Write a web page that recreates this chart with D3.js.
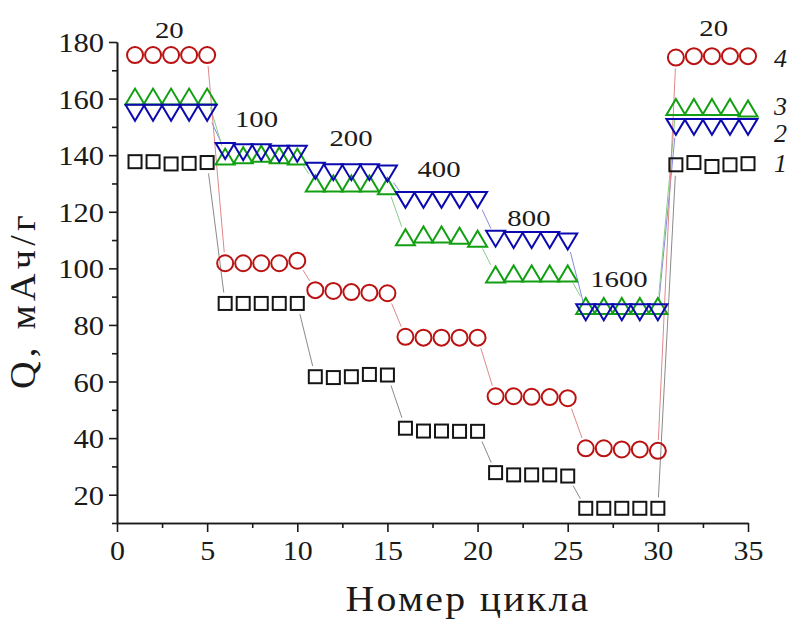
<!DOCTYPE html>
<html><head><meta charset="utf-8">
<script src="https://cdn.jsdelivr.net/npm/d3@7"></script>
<style>body{margin:0;background:#fff}svg{display:block}
text{font-family:"Liberation Serif","Times New Roman",Times,serif;}
</style>
</head><body><svg id="c" width="790" height="621"></svg>
<script>
// ---- data ----
const cycles = [1,2,3,4,5,6,7,8,9,10,11,12,13,14,15,16,17,18,19,20,21,22,23,24,25,26,27,28,29,30,31,32,33,34,35];
const series1 = [137.7,137.7,136.9,137.1,137.4, 87.6,87.6,87.6,87.6,87.6, 61.7,61.4,61.7,62.5,62.3, 43.5,42.5,42.5,42.4,42.4, 27.8,27,27,27,26.6, 15.2,15.2,15.2,15.2,15.2, 136.6,137.4,136,136.6,137];
const series2 = [155,155,155,155,155, 141.5,141,141,140.5,140.5, 134.5,134,134,134,133.5, 124.2,124.2,124.2,124.2,124.2, 110.5,110,110,110,109.5, 84.5,84.5,84.5,84.5,84.5, 150,150,150,150,150];
const series3 = [160.7,160.7,160.7,160.7,160.7, 139.5,140,140.5,140,139.5, 130,130,130,130,129, 111,112,112,111.5,110.5, 97.8,98.2,98.2,98.2,98.2, 86.7,86.7,86.7,86.7,86.7, 157,157,157,157,156.5];
const series4 = [175.4,175.4,175.4,175.4,175.4, 101.8,101.8,101.8,101.8,102.7, 92.3,92,91.6,91.4,91.2, 75.8,75.5,75.5,75.5,75.5, 54.8,54.8,54.6,54.5,54.1, 36.4,36.4,36,36,35.5, 174.5,175,175,175,175];
const seriesNames = ["1","2","3","4"];
const rateLabels = ["20","100","200","400","800","1600","20"];
const rateLabelCycle = [2.9,7.74,12.98,17.86,22.85,27.84,33.1];
const rateLabelQ = [181.4,150,143.1,132.2,115,93.5,182];
const seriesLabelQ = [134.1,144.7,154.2,171.2];
const yMajorTicks = [20,40,60,80,100,120,140,160,180];
const yMinorTicks = [10,30,50,70,90,110,130,150,170];
const xMajorTicks = [0,5,10,15,20,25,30,35];
const xMinorTicks = [2.5,7.5,12.5,17.5,22.5,27.5,32.5];
const xTitle = "Номер цикла";
const yTitle = "Q, мАч/г";

// ---- chart ----
const svg = d3.select("#c");
const x = d3.scaleLinear().domain([0,35]).range([117,748]);
const y = d3.scaleLinear().domain([10,180]).range([523,42]);
const ink = "#1a1a1a";

function stretch(node, px, py, target, rot){
  const w = node.getComputedTextLength();
  const s = w>0 ? target/w : 1;
  d3.select(node).attr("x",0).attr("y",0)
    .attr("transform",`translate(${px},${py})${rot?` rotate(${rot})`:""} scale(${s},1)`);
}

function styleAxis(g){
  g.attr("font-family",null);
  g.selectAll("path.domain").attr("stroke",ink).attr("stroke-width",1.6);
  g.selectAll(".tick line").attr("stroke",ink).attr("stroke-width",1.6);
}
svg.append("g").attr("transform","translate(117,0)")
  .call(d3.axisLeft(y).tickValues(yMinorTicks).tickSize(5).tickSizeOuter(0).tickFormat(""))
  .call(styleAxis);
svg.append("g").attr("transform","translate(0,523)")
  .call(d3.axisBottom(x).tickValues(xMinorTicks).tickSize(5).tickSizeOuter(0).tickFormat(""))
  .call(styleAxis);
const gy = svg.append("g").attr("transform","translate(117,0)")
  .call(d3.axisLeft(y).tickValues(yMajorTicks).tickSize(8).tickPadding(5).tickSizeOuter(0))
  .call(styleAxis);
gy.selectAll("text").attr("font-size",28).attr("fill",ink).attr("dy","0.34em")
  .each(function(d){ stretch(this,-13,0,String(d).length*15.3); });
const gx = svg.append("g").attr("transform","translate(0,523)")
  .call(d3.axisBottom(x).tickValues(xMajorTicks).tickSize(9).tickSizeOuter(0))
  .call(styleAxis);
gx.selectAll("text").attr("font-size",28).attr("fill",ink).attr("dy",0)
  .each(function(d){ stretch(this,0,37,String(d).length*15); });

const xt = svg.append("text").attr("text-anchor","middle")
  .attr("font-size",35).attr("letter-spacing",2).attr("fill",ink).text(xTitle);
stretch(xt.node(),468,611,245);
const yt = svg.append("text").attr("text-anchor","middle")
  .attr("font-size",36).attr("letter-spacing",4).attr("fill",ink).text(yTitle);
stretch(yt.node(),35,300,178,-90);

const defs = [
  {vals:series1, stroke:"#151515", line:"#8a8a8a", shape:"square"},
  {vals:series2, stroke:"#0a0ab0", line:"#8888e0", shape:"tdown"},
  {vals:series3, stroke:"#12a012", line:"#88cc88", shape:"tup"},
  {vals:series4, stroke:"#bb1111", line:"#e08888", shape:"circle"}
];
const gap = 11;
defs.forEach(s=>{
  const g = svg.append("g");
  for(let i=0;i<cycles.length-1;i++){
    const x0=x(cycles[i]), y0=y(s.vals[i]), x1=x(cycles[i+1]), y1=y(s.vals[i+1]);
    const dx=x1-x0, dy=y1-y0, L=Math.hypot(dx,dy);
    if(L>2*gap+1){
      const ux=dx/L, uy=dy/L;
      g.append("line").attr("x1",x0+ux*gap).attr("y1",y0+uy*gap)
        .attr("x2",x1-ux*gap).attr("y2",y1-uy*gap)
        .attr("stroke",s.line).attr("stroke-width",1);
    }
  }
});
[0,3,2,1].forEach(k=>{
  const s = defs[k];
  const g = svg.append("g").attr("fill","none").attr("stroke",s.stroke).attr("stroke-width",2);
  const pts = cycles.map((c,i)=>[x(c),y(s.vals[i])]);
  if(s.shape==="square"){
    g.selectAll("rect").data(pts).join("rect")
      .attr("x",d=>d[0]-6.5).attr("y",d=>d[1]-6.5).attr("width",13).attr("height",13);
  } else if(s.shape==="circle"){
    g.selectAll("circle").data(pts).join("circle")
      .attr("cx",d=>d[0]).attr("cy",d=>d[1]).attr("r",8);
  } else {
    const hw=9.5, hh=8, dir = s.shape==="tup" ? -1 : 1;
    g.selectAll("path").data(pts).join("path")
      .attr("d",d=>`M${d[0]-hw},${d[1]-dir*hh}L${d[0]+hw},${d[1]-dir*hh}L${d[0]},${d[1]+dir*hh}Z`);
  }
});

rateLabels.forEach((t,i)=>{
  const n = svg.append("text").attr("text-anchor","middle").attr("font-size",24).attr("fill",ink).text(t);
  stretch(n.node(), x(rateLabelCycle[i]), y(rateLabelQ[i]), t.length*14.4);
});
seriesNames.forEach((t,i)=>{
  svg.append("text").attr("x",x(36.8)).attr("y",y(seriesLabelQ[i]))
    .attr("text-anchor","middle").attr("font-style","italic")
    .attr("font-size",26).attr("fill",ink).text(t);
});
</script></body></html>
